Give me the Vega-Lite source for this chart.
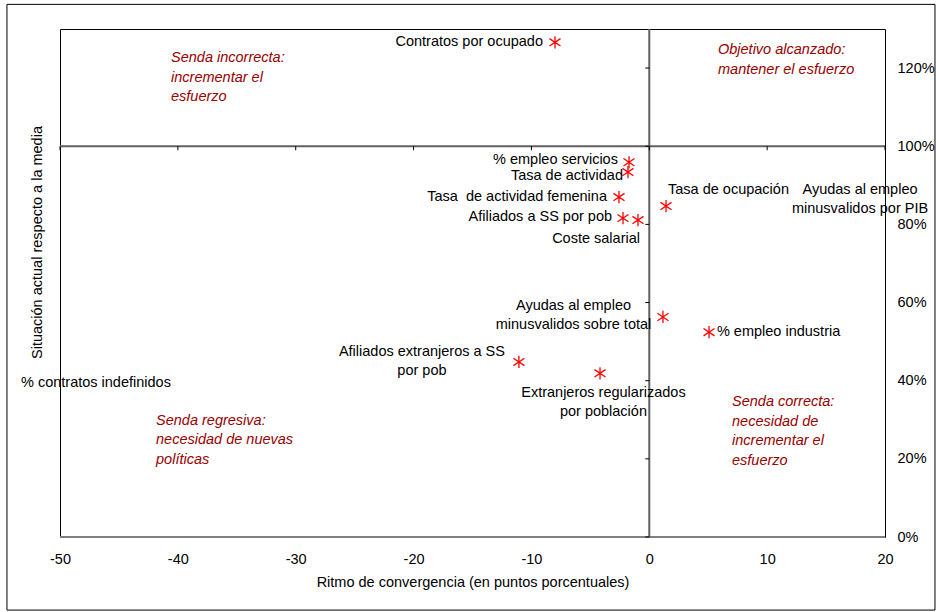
{
  "$schema": "https://vega.github.io/schema/vega-lite/v6.json",
  "width": 825,
  "height": 508,
  "autosize": {"type": "none"},
  "padding": {"left": 60, "top": 29, "right": 51, "bottom": 75},
  "background": "#ffffff",
  "config": {
    "font": "Liberation Sans",
    "view": {"stroke": "#000000", "strokeWidth": 1}
  },
  "resolve": {"axis": {"x": "independent", "y": "independent"}},
  "datasets": {
    "points": [
      {"name": "Contratos por ocupado", "x": -8.0, "y": 126.6},
      {"name": "% empleo servicios", "x": -1.72, "y": 95.9},
      {"name": "Tasa de actividad", "x": -1.81, "y": 93.4},
      {"name": "Tasa de actividad femenina", "x": -2.57, "y": 87.0},
      {"name": "Afiliados a SS por pob", "x": -2.23, "y": 81.6},
      {"name": "Coste salarial", "x": -0.96, "y": 81.1},
      {"name": "Tasa de ocupación", "x": 1.42, "y": 84.7},
      {"name": "Ayudas al empleo minusvalidos sobre total", "x": 1.16, "y": 56.3},
      {"name": "% empleo industria", "x": 5.07, "y": 52.4},
      {"name": "Afiliados extranjeros a SS por pob", "x": -11.06, "y": 44.8},
      {"name": "Extranjeros regularizados por población", "x": -4.18, "y": 41.9}
    ],
    "labelsRight": [
      {"label": "Contratos por ocupado", "lx": -9.02, "ly": 126.6},
      {"label": "% empleo servicios", "lx": -2.66, "ly": 96.4},
      {"label": "Tasa de actividad", "lx": -2.23, "ly": 92.4},
      {"label": "Tasa \u00a0de actividad femenina", "lx": -3.59, "ly": 87.0},
      {"label": "Afiliados a SS por pob", "lx": -3.16, "ly": 81.8},
      {"label": "Coste salarial", "lx": -0.79, "ly": 76.2}
    ],
    "labelsLeft": [
      {"label": "Tasa de ocupación", "lx": 1.59, "ly": 88.7},
      {"label": "% empleo industria", "lx": 5.74, "ly": 52.4}
    ],
    "labelsCenter": [
      {"label": "Ayudas al empleo\nminusvalidos por PIB", "lx": 17.88, "ly": 88.7},
      {"label": "Ayudas al empleo\nminusvalidos sobre total", "lx": -6.43, "ly": 59.1},
      {"label": "Afiliados extranjeros a SS\npor pob", "lx": -19.29, "ly": 47.3},
      {"label": "Extranjeros regularizados\npor población", "lx": -3.89, "ly": 36.8},
      {"label": "% contratos indefinidos", "lx": -46.95, "ly": 39.4}
    ],
    "quadrants": [
      {"label": "Senda incorrecta:\nincrementar el\nesfuerzo", "lx": -40.58, "ly": 122.5},
      {"label": "Objetivo alcanzado:\nmantener el esfuerzo", "lx": 5.83, "ly": 124.6},
      {"label": "Senda regresiva:\nnecesidad de nuevas\npolíticas", "lx": -41.85, "ly": 29.7},
      {"label": "Senda correcta:\nnecesidad de\nincrementar el\nesfuerzo", "lx": 7.02, "ly": 34.5}
    ],
    "xticks": [{"v": -50}, {"v": -40}, {"v": -30}, {"v": -20}, {"v": -10}, {"v": 0}, {"v": 10}, {"v": 20}],
    "yticks": [{"v": 0}, {"v": 20}, {"v": 40}, {"v": 60}, {"v": 80}, {"v": 100}, {"v": 120}]
  },
  "layer": [
    {
      "data": {"values": [{}]},
      "mark": {"type": "rect", "fill": null, "filled": false, "stroke": "#000000", "strokeWidth": 1, "clip": false},
      "encoding": {
        "x": {"datum": -54.5, "type": "quantitative", "scale": {"domain": [-50, 20], "nice": false, "zero": false}, "axis": null},
        "x2": {"datum": 24.24},
        "y": {"datum": 136.3, "type": "quantitative", "scale": {"domain": [0, 130], "nice": false, "zero": false}, "axis": null},
        "y2": {"datum": -18.7}
      }
    },
    {
      "data": {"values": [{}]},
      "mark": {"type": "rule", "color": "#808080", "strokeWidth": 2},
      "encoding": {
        "y": {"datum": 0, "type": "quantitative", "axis": null}
      }
    },
    {
      "data": {"values": [{}]},
      "mark": {"type": "rule", "color": "#606060", "strokeWidth": 2},
      "encoding": {
        "y": {"datum": 100, "type": "quantitative", "axis": null}
      }
    },
    {
      "data": {"values": [{}]},
      "mark": {"type": "rule", "color": "#606060", "strokeWidth": 2},
      "encoding": {
        "x": {"datum": 0, "type": "quantitative", "axis": null}
      }
    },
    {
      "data": {"name": "xticks"},
      "mark": {"type": "rule", "color": "#000000", "strokeWidth": 1},
      "encoding": {
        "x": {"field": "v", "type": "quantitative", "axis": null},
        "y": {"datum": 100, "type": "quantitative", "axis": null},
        "y2": {"datum": 98.98}
      }
    },
    {
      "data": {"name": "yticks"},
      "mark": {"type": "rule", "color": "#000000", "strokeWidth": 1},
      "encoding": {
        "y": {"field": "v", "type": "quantitative", "axis": null},
        "x": {"datum": 0, "type": "quantitative", "axis": null},
        "x2": {"datum": -0.34}
      }
    },
    {
      "data": {"name": "points"},
      "mark": {
        "type": "point",
        "shape": "M0,-1V1M-0.9,-0.6L0.9,0.6M-0.9,0.6L0.9,-0.6",
        "filled": false,
        "stroke": "#ff0000",
        "strokeWidth": 1.3,
        "size": 150,
        "opacity": 1
      },
      "encoding": {
        "x": {
          "field": "x",
          "type": "quantitative",
          "axis": {
            "orient": "bottom",
            "values": [-50, -40, -30, -20, -10, 0, 10, 20],
            "grid": false,
            "domain": false,
            "ticks": false,
            "tickSize": 0,
            "labelPadding": 15,
            "labelFontSize": 14.5,
            "labelColor": "#000000",
            "labelFlush": false,
            "labelOverlap": false,
            "labelExpr": "'' + datum.value",
            "title": "Ritmo de convergencia (en puntos porcentuales)",
            "titleFontSize": 14.5,
            "titleFontWeight": "normal",
            "titleColor": "#000000",
            "titlePadding": 10
          }
        },
        "y": {
          "field": "y",
          "type": "quantitative",
          "axis": {
            "orient": "right",
            "values": [0, 20, 40, 60, 80, 100, 120],
            "grid": false,
            "domain": false,
            "ticks": false,
            "tickSize": 0,
            "labelPadding": 12,
            "labelFontSize": 14.5,
            "labelColor": "#000000",
            "labelFlush": false,
            "labelOverlap": false,
            "labelExpr": "datum.value + '%'",
            "title": "Situación actual respecto a la media",
            "titleFontSize": 14.5,
            "titleFontWeight": "normal",
            "titleColor": "#000000",
            "titleAngle": 270,
            "titleX": -848,
            "titleY": 213,
            "titleAlign": "center",
            "titleBaseline": "middle"
          }
        }
      }
    },
    {
      "data": {"name": "labelsRight"},
      "mark": {"type": "text", "align": "right", "baseline": "middle", "fontSize": 14.5, "color": "#000000", "lineBreak": "\n", "lineHeight": 19},
      "encoding": {
        "x": {"field": "lx", "type": "quantitative", "axis": null},
        "y": {"field": "ly", "type": "quantitative", "axis": null},
        "text": {"field": "label"}
      }
    },
    {
      "data": {"name": "labelsLeft"},
      "mark": {"type": "text", "align": "left", "baseline": "middle", "fontSize": 14.5, "color": "#000000", "lineBreak": "\n", "lineHeight": 19},
      "encoding": {
        "x": {"field": "lx", "type": "quantitative", "axis": null},
        "y": {"field": "ly", "type": "quantitative", "axis": null},
        "text": {"field": "label"}
      }
    },
    {
      "data": {"name": "labelsCenter"},
      "mark": {"type": "text", "align": "center", "baseline": "middle", "fontSize": 14.5, "color": "#000000", "lineBreak": "\n", "lineHeight": 19},
      "encoding": {
        "x": {"field": "lx", "type": "quantitative", "axis": null},
        "y": {"field": "ly", "type": "quantitative", "axis": null},
        "text": {"field": "label"}
      }
    },
    {
      "data": {"name": "quadrants"},
      "mark": {"type": "text", "align": "left", "baseline": "middle", "fontSize": 14.5, "fontStyle": "italic", "color": "#990000", "lineBreak": "\n", "lineHeight": 19.5},
      "encoding": {
        "x": {"field": "lx", "type": "quantitative", "axis": null},
        "y": {"field": "ly", "type": "quantitative", "axis": null},
        "text": {"field": "label"}
      }
    }
  ]
}
